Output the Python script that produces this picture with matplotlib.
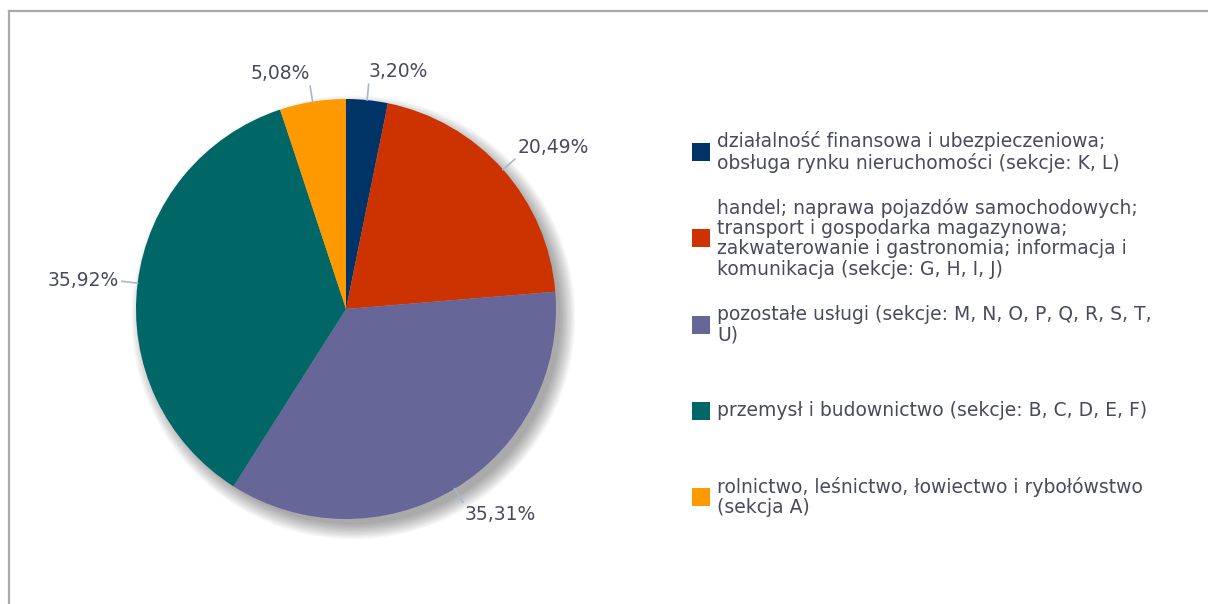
import numpy as np
import matplotlib.pyplot as plt
from matplotlib.patches import Circle, Rectangle
from matplotlib.lines import Line2D

# dane
shares = [3.20, 20.49, 35.31, 35.92, 5.08]
share_labels = ["3,20%", "20,49%", "35,31%", "35,92%", "5,08%"]
colors = ["#003366", "#CC3300", "#666699", "#006666", "#FF9900"]
legend_labels = [
    "działalność finansowa i ubezpieczeniowa;\nobsługa rynku nieruchomości (sekcje: K, L)",
    "handel; naprawa pojazdów samochodowych;\ntransport i gospodarka magazynowa;\nzakwaterowanie i gastronomia; informacja i\nkomunikacja (sekcje: G, H, I, J)",
    "pozostałe usługi (sekcje: M, N, O, P, Q, R, S, T,\nU)",
    "przemysł i budownictwo (sekcje: B, C, D, E, F)",
    "rolnictwo, leśnictwo, łowiectwo i rybołówstwo\n(sekcja A)",
]

W, H = 1208, 604
txt_color = "#4a4a5e"
fig = plt.figure(figsize=(W / 100, H / 100), dpi=100)
fig.patch.set_facecolor("white")

# ramka (tylko lewa i gorna krawedz widoczna)
fig.add_artist(Line2D([9 / W, 9 / W], [0, 1 - 11 / H], color="#aaaaaa", lw=1.6))
fig.add_artist(Line2D([9 / W, 1], [1 - 11 / H, 1 - 11 / H], color="#aaaaaa", lw=1.6))

# os wykresu kolowego: 210 px na jednostke
cx, cy, R = 346, 309, 210
ax_w = 680
ax = fig.add_axes([0, 0, ax_w / W, 1])

wedges, _ = ax.pie(shares, colors=colors, startangle=90, counterclock=False,
                   radius=1.0, wedgeprops=dict(linewidth=0))
for wdg in wedges:
    wdg.set_zorder(2)

# cien
for i in range(12):
    ax.add_patch(Circle((0.035, -0.04), 0.985 + i * 0.0065, color="#000000",
                        alpha=0.03, lw=0, zorder=0))

ax.set_aspect("auto")
ax.set_xlim(-cx / R, (ax_w - cx) / R)
ax.set_ylim(-(H - cy) / R, cy / R)
ax.axis("off")

for wdg, lab in zip(wedges, share_labels):
    ang = np.deg2rad((wdg.theta1 + wdg.theta2) / 2)
    c, s = np.cos(ang), np.sin(ang)
    ax.plot([c * 1.0, c * 1.075], [s * 1.0, s * 1.075], color="#a9b6cc", lw=1.2, zorder=3)
    ha = "left" if c > 0 else "right"
    va = "bottom" if s > 0.5 else ("top" if s < -0.5 else "center")
    ax.text(c * 1.09, s * 1.09, lab, ha=ha, va=va, fontsize=13.5, color=txt_color, zorder=4)

# legenda
y0, step = 152, 86.3
for i, (lab, col) in enumerate(zip(legend_labels, colors)):
    yc = y0 + i * step
    fig.add_artist(Rectangle((692 / W, 1 - (yc + 9) / H), 18 / W, 18 / H,
                             transform=fig.transFigure, facecolor=col, edgecolor="none"))
    fig.text(717 / W, 1 - yc / H, lab, ha="left", va="center", fontsize=13.5,
             color=txt_color, linespacing=1.08)

fig.savefig("out.png", dpi=100)
